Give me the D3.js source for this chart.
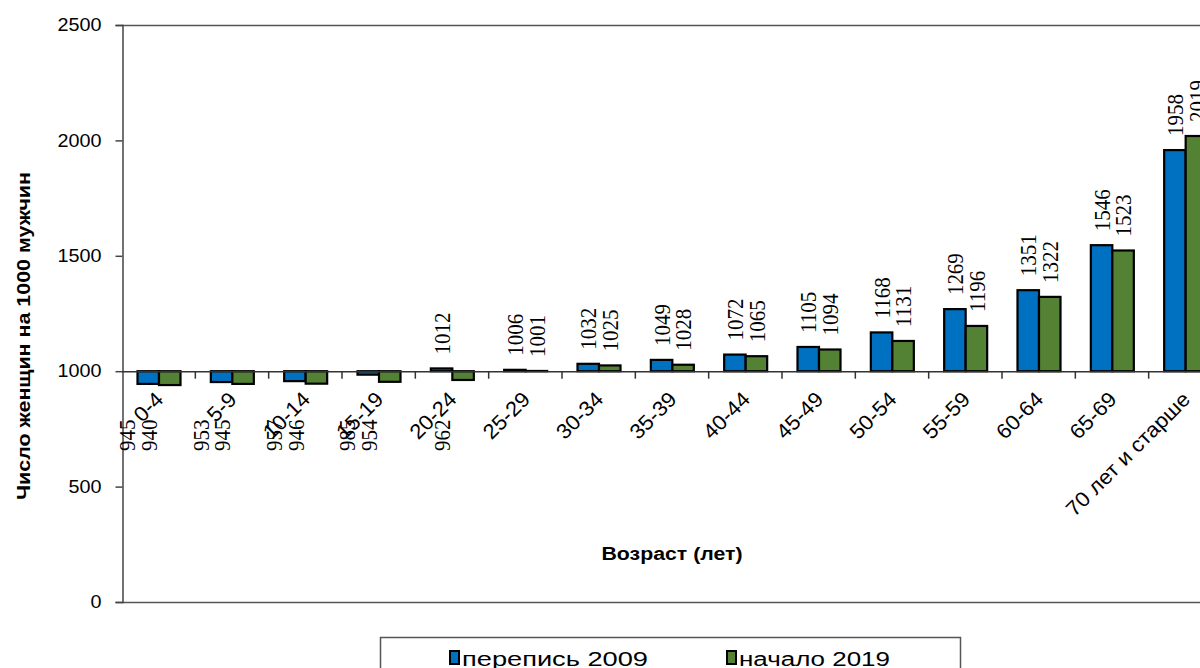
<!DOCTYPE html>
<html><head><meta charset="utf-8">
<script src="https://cdn.jsdelivr.net/npm/d3@7"></script>
<style>body{margin:0;background:#fff;}svg{display:block;}</style>
</head><body>
<svg id="c" width="1200" height="668"></svg>
<script>
const categories = ["0-4","5-9","10-14","15-19","20-24","25-29","30-34","35-39","40-44","45-49","50-54","55-59","60-64","65-69","70 лет и старше"];
const census2009 = [945,953,957,985,1012,1006,1032,1049,1072,1105,1168,1269,1351,1546,1958];
const start2019 = [940,945,946,954,962,1001,1025,1028,1065,1094,1131,1196,1322,1523,2019];
const seriesNames = ["перепись 2009","начало 2019"];
const seriesColors = ["#0070C0","#548235"];
const yTicks = [0,500,1000,1500,2000,2500];
const baseValue = 1000;

(function(){
const svg = d3.select("#c");
const pL = 122, pT = 25, pB = 602, pR = 1222;
const y = d3.scaleLinear().domain([0,2500]).range([pB, pT]);
const x0 = d3.scaleBand().domain(categories).range([pL, pR]).padding(0);
const x1 = d3.scaleBand().domain(seriesNames).range([15.5, 58.5]).padding(0);

svg.append("line").attr("x1",pL).attr("x2",1200).attr("y1",pT+0.5).attr("y2",pT+0.5).attr("stroke","#555").attr("stroke-width",1.5);
svg.append("line").attr("x1",pL).attr("x2",1200).attr("y1",pB+0.5).attr("y2",pB+0.5).attr("stroke","#555").attr("stroke-width",1.5);

const yAxis = svg.append("g").attr("transform",`translate(${pL+0.5},0)`)
  .call(d3.axisLeft(y).tickValues(yTicks).tickSize(7).tickPadding(14).tickFormat(d3.format("d")));
yAxis.select(".domain").attr("stroke","#444").attr("stroke-width",1.5);
yAxis.selectAll(".tick line").attr("stroke","#444").attr("stroke-width",1.5);
yAxis.selectAll(".tick text").attr("font-family","Liberation Sans, Arial").attr("font-size",18).attr("fill","#000")
  .attr("textLength", d=>String(d).length*11).attr("lengthAdjust","spacingAndGlyphs");

const data = categories.map((c,i)=>({cat:c, vals:[census2009[i], start2019[i]]}));
const groups = svg.append("g").selectAll("g").data(data).join("g")
  .attr("transform", d=>`translate(${x0(d.cat)},0)`);
groups.selectAll("rect").data(d=>d.vals.map((v,j)=>({v, s:seriesNames[j], c:seriesColors[j]})))
  .join("rect")
  .attr("x", d=>x1(d.s))
  .attr("width", x1.bandwidth())
  .attr("y", d=>Math.min(y(d.v), y(baseValue)))
  .attr("height", d=>Math.abs(y(d.v)-y(baseValue)))
  .attr("fill", d=>d.c)
  .attr("stroke","#000").attr("stroke-width",2.2);

const xAxisG = svg.append("g").attr("transform",`translate(0,${y(baseValue)+0.5})`);
xAxisG.append("line").attr("x1",pL).attr("x2",1200).attr("stroke","#333").attr("stroke-width",1.5);
xAxisG.selectAll("line.t").data(categories.slice(1)).join("line").attr("class","t")
  .attr("x1",d=>x0(d)).attr("x2",d=>x0(d)).attr("y1",0).attr("y2",7).attr("stroke","#333").attr("stroke-width",1.5);
xAxisG.selectAll("text").data(categories).join("text")
  .attr("transform", d=>`translate(${x0(d)+x0.bandwidth()/2+6},29) rotate(-45)`)
  .attr("text-anchor","end")
  .attr("font-family","Liberation Sans, Arial").attr("font-size",21).attr("fill","#000")
  .text(d=>d)
  .each(function(){ const w=this.getComputedTextLength(); d3.select(this).attr("textLength", w*1.05).attr("lengthAdjust","spacingAndGlyphs"); });

groups.selectAll("text").data(d=>d.vals.map((v,j)=>({v, s:seriesNames[j]})))
  .join("text")
  .attr("transform", d=> d.v >= baseValue
      ? `translate(${x1(d.s)+x1.bandwidth()/2},${y(d.v)-14}) rotate(-90) scale(1,1.12)`
      : `translate(${x1(d.s)+x1.bandwidth()/2-21},451) rotate(-90) scale(1,1.12)`)
  .attr("dy","0.35em")
  .attr("text-anchor","start")
  .attr("font-family","Liberation Serif, Times New Roman").attr("font-size",21).attr("fill","#000")
  .text(d=>d.v);

svg.append("text").attr("transform","translate(30,336) rotate(-90)").attr("text-anchor","middle")
  .attr("font-family","Liberation Sans, Arial").attr("font-weight","bold").attr("font-size",18)
  .attr("textLength",328).attr("lengthAdjust","spacingAndGlyphs")
  .text("Число женщин на 1000 мужчин");
svg.append("text").attr("x",672).attr("y",560).attr("text-anchor","middle")
  .attr("font-family","Liberation Sans, Arial").attr("font-weight","bold").attr("font-size",18)
  .attr("textLength",141).attr("lengthAdjust","spacingAndGlyphs")
  .text("Возраст (лет)");

const lg = svg.append("g");
lg.append("rect").attr("x",380.5).attr("y",637.5).attr("width",580).attr("height",40).attr("fill","#fff").attr("stroke","#555").attr("stroke-width",1.5);
const legX = [450, 727];
const legW = [186, 151];
seriesNames.forEach((n,i)=>{
  lg.append("rect").attr("x",legX[i]).attr("y",651).attr("width",9).attr("height",13).attr("fill",seriesColors[i]).attr("stroke","#000").attr("stroke-width",2);
  lg.append("text").attr("x",legX[i]+12).attr("y",666).attr("font-family","Liberation Sans, Arial").attr("font-size",20)
    .attr("textLength",legW[i]).attr("lengthAdjust","spacingAndGlyphs").text(n);
});
})();
</script>
</body></html>
